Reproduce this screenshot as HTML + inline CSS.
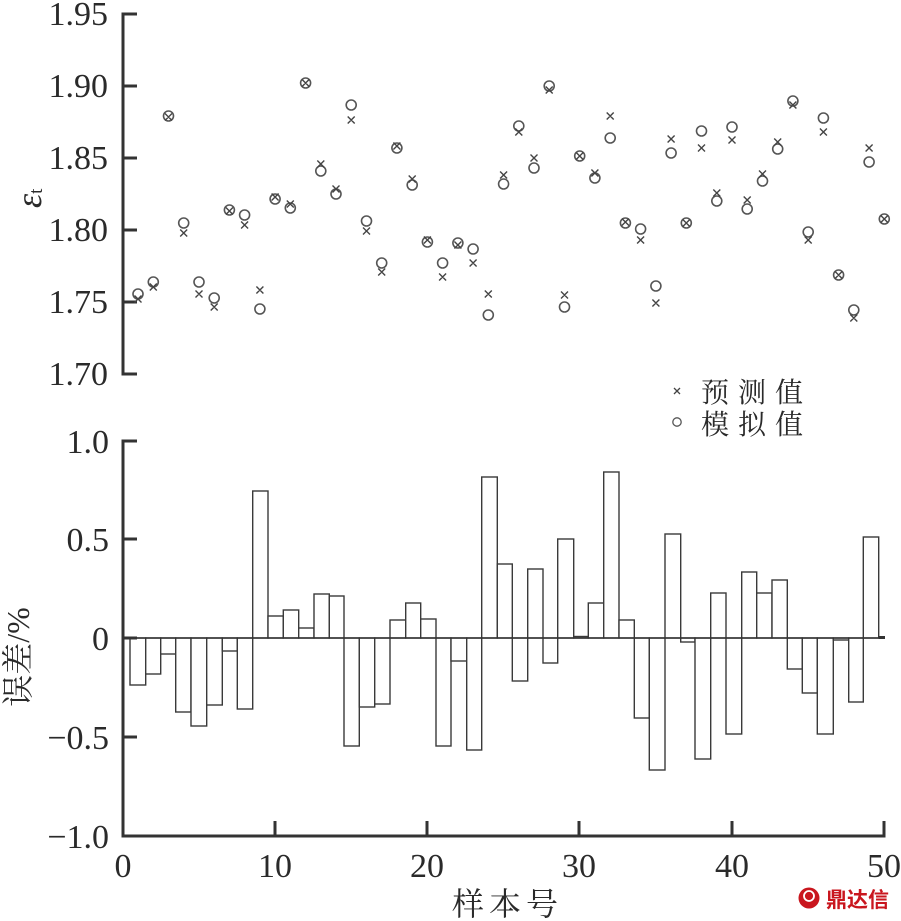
<!DOCTYPE html>
<html>
<head>
<meta charset="utf-8">
<style>
html,body{margin:0;padding:0;background:#fff;}
svg{display:block;}
.num{font-family:"Liberation Serif","DejaVu Serif",serif;font-size:34px;fill:#2a2a2a;}
.cjk{font-family:"Liberation Serif","Noto Serif CJK SC","Noto Sans CJK SC",serif;fill:#2a2a2a;}
</style>
</head>
<body>
<svg width="901" height="921" viewBox="0 0 901 921" xmlns="http://www.w3.org/2000/svg">
<rect width="901" height="921" fill="#fff"/>

<g stroke="#333" stroke-width="3" fill="none">
  <line x1="123" y1="12.5" x2="123" y2="375.5"/>
  <line x1="123" y1="14" x2="137" y2="14"/>
  <line x1="123" y1="86" x2="137" y2="86"/>
  <line x1="123" y1="158" x2="137" y2="158"/>
  <line x1="123" y1="230" x2="137" y2="230"/>
  <line x1="123" y1="302" x2="137" y2="302"/>
  <line x1="123" y1="374" x2="137" y2="374"/>
</g>
<g class="num" text-anchor="end">
  <text x="108" y="25">1.95</text>
  <text x="108" y="97">1.90</text>
  <text x="108" y="169">1.85</text>
  <text x="108" y="241">1.80</text>
  <text x="108" y="313">1.75</text>
  <text x="108" y="385">1.70</text>
</g>
<text transform="translate(41,208) rotate(-90)" class="num" style="font-size:36px"><tspan font-style="italic">ε</tspan><tspan font-size="19" dy="1">t</tspan></text>

<g fill="none" stroke="#555" stroke-width="1.6">
<circle cx="138.0" cy="294" r="5"/><circle cx="153.3" cy="282" r="5"/><circle cx="168.5" cy="116" r="5"/><circle cx="183.7" cy="223" r="5"/><circle cx="199.0" cy="282" r="5"/>
<circle cx="214.2" cy="298" r="5"/><circle cx="229.4" cy="210" r="5"/><circle cx="244.6" cy="215" r="5"/><circle cx="259.9" cy="309" r="5"/><circle cx="275.1" cy="199" r="5"/>
<circle cx="290.3" cy="208" r="5"/><circle cx="305.6" cy="83" r="5"/><circle cx="320.8" cy="171" r="5"/><circle cx="336.0" cy="194" r="5"/><circle cx="351.2" cy="105" r="5"/>
<circle cx="366.5" cy="221" r="5"/><circle cx="381.7" cy="263" r="5"/><circle cx="396.9" cy="148" r="5"/><circle cx="412.2" cy="185" r="5"/><circle cx="427.4" cy="242" r="5"/>
<circle cx="442.6" cy="263" r="5"/><circle cx="457.9" cy="243" r="5"/><circle cx="473.1" cy="249" r="5"/><circle cx="488.3" cy="315" r="5"/><circle cx="503.6" cy="184" r="5"/>
<circle cx="518.8" cy="126" r="5"/><circle cx="534.0" cy="168" r="5"/><circle cx="549.2" cy="86" r="5"/><circle cx="564.5" cy="307" r="5"/><circle cx="579.7" cy="156" r="5"/>
<circle cx="594.9" cy="178" r="5"/><circle cx="610.2" cy="138" r="5"/><circle cx="625.4" cy="223" r="5"/><circle cx="640.6" cy="229" r="5"/><circle cx="655.9" cy="286" r="5"/>
<circle cx="671.1" cy="153" r="5"/><circle cx="686.3" cy="223" r="5"/><circle cx="701.5" cy="131" r="5"/><circle cx="716.8" cy="201" r="5"/><circle cx="732.0" cy="127" r="5"/>
<circle cx="747.2" cy="209" r="5"/><circle cx="762.5" cy="181" r="5"/><circle cx="777.7" cy="149" r="5"/><circle cx="792.9" cy="101" r="5"/><circle cx="808.2" cy="232" r="5"/>
<circle cx="823.4" cy="118" r="5"/><circle cx="838.6" cy="275" r="5"/><circle cx="853.8" cy="310" r="5"/><circle cx="869.1" cy="162" r="5"/><circle cx="884.3" cy="219" r="5"/>
</g>

<g stroke="#444" stroke-width="1.4" fill="none">
<path d="M134.5 295.5l7 7m0 -7l-7 7 M149.8 283.5l7 7m0 -7l-7 7 M165.0 113.5l7 7m0 -7l-7 7 M180.2 229.5l7 7m0 -7l-7 7 M195.5 290.5l7 7m0 -7l-7 7 M210.7 303.5l7 7m0 -7l-7 7 M225.9 207.5l7 7m0 -7l-7 7 M241.1 221.5l7 7m0 -7l-7 7 M256.4 286.5l7 7m0 -7l-7 7 M271.6 193.5l7 7m0 -7l-7 7 M286.8 200.5l7 7m0 -7l-7 7 M302.1 79.5l7 7m0 -7l-7 7 M317.3 160.5l7 7m0 -7l-7 7 M332.5 185.5l7 7m0 -7l-7 7 M347.7 116.5l7 7m0 -7l-7 7 M363.0 227.5l7 7m0 -7l-7 7 M378.2 268.5l7 7m0 -7l-7 7 M393.4 142.5l7 7m0 -7l-7 7 M408.7 175.5l7 7m0 -7l-7 7 M423.9 236.5l7 7m0 -7l-7 7 M439.1 273.5l7 7m0 -7l-7 7 M454.4 241.5l7 7m0 -7l-7 7 M469.6 259.5l7 7m0 -7l-7 7 M484.8 290.5l7 7m0 -7l-7 7 M500.1 171.5l7 7m0 -7l-7 7 M515.3 128.5l7 7m0 -7l-7 7 M530.5 154.5l7 7m0 -7l-7 7 M545.7 86.5l7 7m0 -7l-7 7 M561.0 291.5l7 7m0 -7l-7 7 M576.2 152.5l7 7m0 -7l-7 7 M591.4 169.5l7 7m0 -7l-7 7 M606.7 112.5l7 7m0 -7l-7 7 M621.9 218.5l7 7m0 -7l-7 7 M637.1 236.5l7 7m0 -7l-7 7 M652.4 299.5l7 7m0 -7l-7 7 M667.6 135.5l7 7m0 -7l-7 7 M682.8 219.5l7 7m0 -7l-7 7 M698.0 144.5l7 7m0 -7l-7 7 M713.3 189.5l7 7m0 -7l-7 7 M728.5 136.5l7 7m0 -7l-7 7 M743.7 196.5l7 7m0 -7l-7 7 M759.0 170.5l7 7m0 -7l-7 7 M774.2 138.5l7 7m0 -7l-7 7 M789.4 101.5l7 7m0 -7l-7 7 M804.7 236.5l7 7m0 -7l-7 7 M819.9 128.5l7 7m0 -7l-7 7 M835.1 271.5l7 7m0 -7l-7 7 M850.3 314.5l7 7m0 -7l-7 7 M865.6 144.5l7 7m0 -7l-7 7 M880.8 215.5l7 7m0 -7l-7 7"/>
</g>

<g stroke="#444" stroke-width="1.3" fill="none">
  <path d="M674 388l6 6m0 -6l-6 6"/>
  <circle cx="677" cy="422" r="4.2" stroke="#555"/>
</g>
<text x="701" y="402" class="cjk" style="font-size:28px;letter-spacing:9px">预测值</text>
<text x="701" y="434" class="cjk" style="font-size:28px;letter-spacing:9px">模拟值</text>

<g fill="#fff" stroke="#3a3a3a" stroke-width="1.4">
<rect x="130" y="638" width="15.7" height="47"/>
<rect x="145.7" y="638" width="15" height="36"/>
<rect x="160.7" y="638" width="15" height="16"/>
<rect x="175.7" y="638" width="15.3" height="74"/>
<rect x="191" y="638" width="15.7" height="88"/>
<rect x="206.7" y="638" width="15.6" height="67"/>
<rect x="222.3" y="638" width="15" height="13"/>
<rect x="237.3" y="638" width="15.4" height="71"/>
<rect x="252.7" y="491" width="15.3" height="147"/>
<rect x="268" y="616" width="15.3" height="22"/>
<rect x="283.3" y="610" width="15.4" height="28"/>
<rect x="298.7" y="628" width="15.3" height="10"/>
<rect x="314" y="594" width="15.3" height="44"/>
<rect x="329.3" y="596" width="14.7" height="42"/>
<rect x="344" y="638" width="15.3" height="108"/>
<rect x="359.3" y="638" width="15.4" height="69"/>
<rect x="374.7" y="638" width="15.3" height="66"/>
<rect x="390" y="620" width="15.7" height="18"/>
<rect x="405.7" y="603" width="15" height="35"/>
<rect x="420.7" y="619" width="15.3" height="19"/>
<rect x="436" y="638" width="15" height="108"/>
<rect x="451" y="638" width="15.7" height="23"/>
<rect x="466.7" y="638" width="15" height="112"/>
<rect x="481.7" y="477" width="15.6" height="161"/>
<rect x="497.3" y="564" width="15" height="74"/>
<rect x="512.3" y="638" width="15.4" height="43"/>
<rect x="527.7" y="569" width="15.3" height="69"/>
<rect x="543" y="638" width="14.7" height="25"/>
<rect x="557.7" y="539" width="16" height="99"/>
<rect x="573.7" y="636.5" width="14.6" height="1.5"/>
<rect x="588.3" y="603" width="15.4" height="35"/>
<rect x="603.7" y="472" width="15.3" height="166"/>
<rect x="619" y="620" width="15.3" height="18"/>
<rect x="634.3" y="638" width="15" height="80"/>
<rect x="649.3" y="638" width="15.7" height="132"/>
<rect x="665" y="534" width="15.7" height="104"/>
<rect x="680.7" y="638" width="14.3" height="4"/>
<rect x="695" y="638" width="15.7" height="121"/>
<rect x="710.7" y="593" width="15.3" height="45"/>
<rect x="726" y="638" width="15.7" height="96"/>
<rect x="741.7" y="572" width="15" height="66"/>
<rect x="756.7" y="593" width="15.3" height="45"/>
<rect x="772" y="580" width="15.3" height="58"/>
<rect x="787.3" y="638" width="15" height="31"/>
<rect x="802.3" y="638" width="15" height="55"/>
<rect x="817.3" y="638" width="16" height="96"/>
<rect x="833.3" y="638" width="15.4" height="2"/>
<rect x="848.7" y="638" width="14.6" height="64"/>
<rect x="863.3" y="537" width="15.4" height="101"/>
</g>
<line x1="123" y1="638" x2="885" y2="638" stroke="#333" stroke-width="1.6"/>
<line x1="878.7" y1="637.5" x2="885" y2="637.5" stroke="#333" stroke-width="3"/>

<g stroke="#333" stroke-width="3" fill="none">
  <line x1="123" y1="439.5" x2="123" y2="837.5"/>
  <line x1="121.5" y1="836" x2="885.5" y2="836"/>
  <line x1="123" y1="441" x2="137" y2="441"/>
  <line x1="123" y1="539" x2="137" y2="539"/>
  <line x1="123" y1="638" x2="137" y2="638"/>
  <line x1="123" y1="737" x2="137" y2="737"/>
  <line x1="275" y1="821" x2="275" y2="836"/>
  <line x1="427" y1="821" x2="427" y2="836"/>
  <line x1="579" y1="821" x2="579" y2="836"/>
  <line x1="732" y1="821" x2="732" y2="836"/>
  <line x1="884" y1="821" x2="884" y2="836"/>
</g>
<g class="num" text-anchor="end">
  <text x="109" y="453">1.0</text>
  <text x="109" y="551">0.5</text>
  <text x="109" y="650">0</text>
  <text x="109" y="749">−0.5</text>
  <text x="109" y="848">−1.0</text>
</g>
<g class="num" text-anchor="middle">
  <text x="123" y="877">0</text>
  <text x="275" y="877">10</text>
  <text x="427" y="877">20</text>
  <text x="579" y="877">30</text>
  <text x="732" y="877">40</text>
  <text x="884" y="877">50</text>
</g>
<text x="452" y="915" class="cjk" style="font-size:32px;letter-spacing:5px">样本号</text>
<text transform="translate(29,657) rotate(-90)" text-anchor="middle" class="cjk" style="font-size:32px">误差/%</text>

<g>
  <circle cx="809" cy="898" r="10.5" fill="#c9161e"/>
  <circle cx="809" cy="896" r="5" fill="none" stroke="#fff" stroke-width="1.8"/>
  <text x="826" y="907" style="font-family:'Noto Sans CJK SC','WenQuanYi Zen Hei',sans-serif;font-size:21px;font-weight:bold;fill:#c9161e">鼎达信</text>
</g>
</svg>
</body>
</html>
